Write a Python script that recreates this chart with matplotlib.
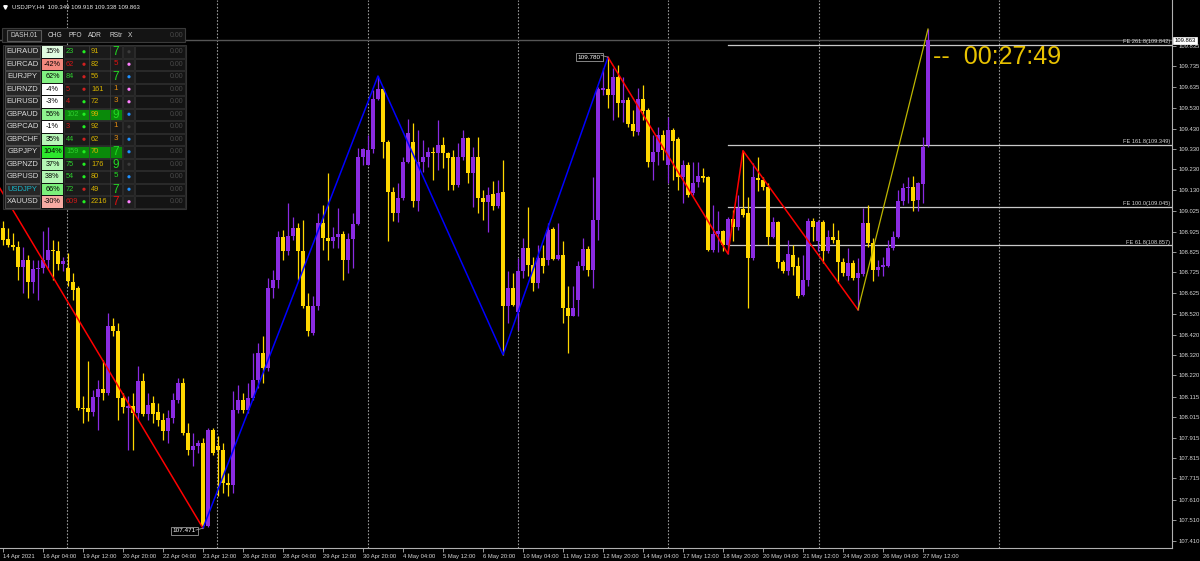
import matplotlib.pyplot as plt
from matplotlib.patches import Rectangle, Circle

plt.rcParams['font.family'] = ['Liberation Sans', 'DejaVu Sans']

# ---- USDJPY H4 candles (bar 0 .. 185) ----
opens = [108.942, 108.890, 108.860, 108.852, 108.754, 108.787, 108.676, 108.741, 108.746, 108.787,
         108.836, 108.832, 108.767, 108.746, 108.676, 108.648, 108.060, 108.060, 108.039, 108.114,
         108.153, 108.134, 108.460, 108.436, 108.109, 108.060, 108.068, 108.036, 108.191, 108.032,
         108.085, 108.039, 108.000, 107.946, 108.011, 108.101, 108.183, 107.938, 107.856, 107.876,
         107.889, 107.480, 107.954, 107.872, 107.856, 107.693, 107.683, 108.049, 108.101, 108.052,
         108.109, 108.199, 108.330, 108.256, 108.648, 108.689, 108.901, 108.832, 108.904, 108.942,
         108.832, 108.561, 108.427, 108.558, 108.966, 108.893, 108.877, 108.901, 108.912, 108.787,
         108.888, 108.963, 109.290, 109.252, 109.329, 109.574, 109.623, 109.362, 109.117, 109.015,
         109.089, 109.268, 109.362, 109.076, 109.268, 109.293, 109.317, 109.309, 109.350, 109.309,
         109.293, 109.154, 109.290, 109.386, 109.211, 109.290, 109.089, 109.072, 109.110, 109.053,
         109.117, 108.558, 108.648, 108.529, 108.730, 108.844, 108.762, 108.672, 108.795, 108.787,
         108.937, 108.790, 108.811, 108.550, 108.512, 108.591, 108.757, 108.839, 108.738, 108.983,
         109.620, 109.623, 109.595, 109.685, 109.557, 109.571, 109.453, 109.411, 109.574, 109.522,
         109.264, 109.317, 109.399, 109.252, 109.424, 109.378, 109.195, 109.252, 109.113, 109.170,
         109.200, 109.195, 108.836, 108.914, 108.926, 108.860, 108.986, 108.950, 109.037, 109.015,
         108.795, 109.187, 109.179, 109.146, 108.901, 108.970, 108.774, 108.730, 108.811, 108.757,
         108.615, 108.689, 108.975, 108.877, 108.970, 108.828, 108.898, 108.885, 108.774, 108.705,
         108.770, 108.697, 108.718, 108.966, 108.868, 108.738, 108.754, 108.757, 108.844, 108.898,
         109.073, 109.138, 109.146, 109.081, 109.159, 109.349]
highs = [108.975, 108.942, 108.917, 108.877, 108.852, 108.811, 108.787, 108.787, 108.926, 108.950,
         108.885, 108.877, 108.803, 108.819, 108.721, 108.656, 108.117, 108.289, 108.150, 108.199,
         108.297, 108.525, 108.501, 108.476, 108.134, 108.117, 108.134, 108.264, 108.232, 108.134,
         108.117, 108.085, 108.036, 108.052, 108.134, 108.207, 108.207, 107.987, 107.938, 107.905,
         107.913, 107.962, 107.962, 107.921, 107.889, 107.742, 108.142, 108.174, 108.134, 108.183,
         108.330, 108.378, 108.411, 108.697, 108.738, 108.926, 108.934, 109.064, 108.999, 108.966,
         108.983, 108.623, 108.607, 109.015, 109.056, 109.211, 108.950, 109.040, 108.926, 108.917,
         109.015, 109.334, 109.334, 109.399, 109.620, 109.688, 109.636, 109.375, 109.146, 109.162,
         109.293, 109.476, 109.456, 109.424, 109.375, 109.342, 109.342, 109.473, 109.391, 109.317,
         109.326, 109.358, 109.424, 109.391, 109.342, 109.391, 109.130, 109.146, 109.171, 109.179,
         109.277, 108.730, 108.721, 108.795, 108.893, 109.048, 108.803, 108.860, 108.860, 108.966,
         108.950, 108.966, 108.877, 108.656, 108.656, 108.779, 108.893, 108.855, 109.195, 109.636,
         109.726, 109.780, 109.726, 109.742, 109.685, 109.587, 109.522, 109.628, 109.644, 109.530,
         109.399, 109.440, 109.424, 109.489, 109.432, 109.391, 109.277, 109.268, 109.268, 109.268,
         109.236, 109.198, 109.056, 109.024, 108.934, 108.999, 109.032, 109.105, 109.322, 109.097,
         109.260, 109.293, 109.195, 109.162, 108.999, 108.975, 108.787, 108.885, 108.860, 108.803,
         108.811, 108.991, 108.991, 108.983, 108.983, 108.934, 108.966, 108.934, 108.795, 108.844,
         108.787, 108.795, 109.040, 109.056, 108.893, 108.787, 108.803, 108.885, 108.926, 109.130,
         109.162, 109.195, 109.198, 109.170, 109.391, 109.918]
lows = [108.860, 108.852, 108.836, 108.689, 108.623, 108.599, 108.623, 108.591, 108.721, 108.746,
        108.689, 108.738, 108.730, 108.656, 108.591, 108.052, 107.987, 107.995, 108.019, 107.954,
        108.101, 108.125, 108.411, 108.003, 108.036, 107.856, 107.856, 108.003, 108.019, 108.003,
        107.987, 107.970, 107.905, 107.889, 107.987, 108.085, 107.929, 107.832, 107.774, 107.840,
        107.471, 107.478, 107.832, 107.627, 107.644, 107.627, 107.644, 108.036, 108.036, 108.036,
        108.101, 108.158, 108.183, 108.240, 108.599, 108.648, 108.787, 108.811, 108.885, 108.689,
        108.550, 108.411, 108.419, 108.542, 108.836, 108.787, 108.844, 108.844, 108.689, 108.721,
        108.746, 108.958, 109.252, 109.252, 109.309, 109.571, 109.285, 108.877, 108.975, 108.970,
        109.081, 109.260, 109.048, 109.028, 109.219, 109.244, 109.179, 109.228, 109.236, 109.130,
        109.130, 109.146, 109.277, 109.162, 109.048, 109.015, 108.983, 108.921, 109.032, 109.040,
        108.321, 108.476, 108.558, 108.444, 108.697, 108.705, 108.632, 108.648, 108.721, 108.762,
        108.787, 108.787, 108.476, 108.329, 108.509, 108.509, 108.738, 108.705, 108.648, 108.885,
        109.595, 109.530, 109.473, 109.489, 109.464, 109.440, 109.394, 109.399, 109.473, 109.244,
        109.179, 109.252, 109.277, 109.162, 109.179, 109.130, 109.064, 109.097, 109.105, 109.146,
        109.170, 108.828, 108.823, 108.823, 108.828, 108.816, 108.881, 108.934, 108.999, 108.550,
        108.787, 109.122, 109.130, 108.860, 108.893, 108.746, 108.721, 108.713, 108.713, 108.599,
        108.607, 108.656, 108.877, 108.828, 108.770, 108.819, 108.868, 108.672, 108.705, 108.689,
        108.689, 108.542, 108.705, 108.852, 108.681, 108.705, 108.705, 108.754, 108.836, 108.893,
        109.056, 109.064, 109.024, 109.024, 109.064, 109.338]
closes = [108.885, 108.860, 108.852, 108.754, 108.787, 108.676, 108.741, 108.746, 108.787, 108.836,
          108.828, 108.767, 108.779, 108.681, 108.640, 108.060, 108.055, 108.039, 108.114, 108.153,
          108.134, 108.460, 108.436, 108.109, 108.065, 108.068, 108.036, 108.191, 108.032, 108.076,
          108.032, 108.003, 107.946, 108.011, 108.101, 108.183, 107.938, 107.856, 107.876, 107.889,
          107.480, 107.954, 107.840, 107.853, 107.693, 107.683, 108.049, 108.101, 108.052, 108.109,
          108.199, 108.330, 108.256, 108.651, 108.689, 108.901, 108.832, 108.904, 108.942, 108.832,
          108.561, 108.436, 108.558, 108.966, 108.893, 108.877, 108.901, 108.912, 108.787, 108.888,
          108.963, 109.290, 109.331, 109.326, 109.574, 109.623, 109.362, 109.117, 109.015, 109.089,
          109.268, 109.407, 109.076, 109.268, 109.293, 109.317, 109.309, 109.350, 109.309, 109.285,
          109.154, 109.293, 109.386, 109.211, 109.290, 109.089, 109.068, 109.105, 109.053, 109.113,
          108.558, 108.648, 108.563, 108.730, 108.844, 108.762, 108.672, 108.795, 108.757, 108.934,
          108.790, 108.808, 108.550, 108.512, 108.553, 108.757, 108.839, 108.738, 108.983, 109.623,
          109.628, 109.595, 109.685, 109.557, 109.571, 109.453, 109.419, 109.574, 109.518, 109.264,
          109.317, 109.399, 109.326, 109.424, 109.371, 109.195, 109.252, 109.105, 109.162, 109.200,
          109.187, 108.836, 108.914, 108.926, 108.860, 108.986, 108.950, 109.040, 109.007, 108.795,
          109.195, 109.179, 109.146, 108.901, 108.970, 108.774, 108.730, 108.816, 108.754, 108.610,
          108.689, 108.975, 108.947, 108.970, 108.828, 108.898, 108.885, 108.774, 108.721, 108.770,
          108.697, 108.721, 108.966, 108.868, 108.738, 108.754, 108.762, 108.844, 108.901, 109.073,
          109.138, 109.146, 109.077, 109.162, 109.342, 109.863]

# zigzag legs (bar index, price)
zz_red1 = [(-8, 109.44), (40, 107.471)]
zz_blue = [(40, 107.471), (75, 109.688), (100, 108.321), (121, 109.780)]
zz_red2 = [(121, 109.780), (145, 108.816), (148, 109.322), (171, 108.542)]
zz_olive = [(171, 108.542), (185, 109.918)]

fib_levels = [261.8, 161.8, 100.0, 61.8]
fib_prices = [109.842, 109.349, 109.045, 108.857]
fib_start_bar = 145
bid = 109.863

price_ticks = [109.835, 109.735, 109.635, 109.530, 109.430, 109.330, 109.230, 109.130, 109.025,
               108.925, 108.825, 108.725, 108.625, 108.520, 108.420, 108.320, 108.220, 108.115,
               108.015, 107.915, 107.815, 107.715, 107.610, 107.510, 107.410]
time_labels = ["14 Apr 2021", "16 Apr 04:00", "19 Apr 12:00", "20 Apr 20:00", "22 Apr 04:00",
               "23 Apr 12:00", "26 Apr 20:00", "28 Apr 04:00", "29 Apr 12:00", "30 Apr 20:00",
               "4 May 04:00", "5 May 12:00", "6 May 20:00", "10 May 04:00", "11 May 12:00",
               "12 May 20:00", "14 May 04:00", "17 May 12:00", "18 May 20:00", "20 May 04:00",
               "21 May 12:00", "24 May 20:00", "26 May 04:00", "27 May 12:00"]
grid_bars = [12.8, 42.8, 73, 103, 133, 163.2, 199.2]

# dashboard
symbols = ["EURAUD", "EURCAD", "EURJPY", "EURNZD", "EURUSD", "GBPAUD", "GBPCAD",
           "GBPCHF", "GBPJPY", "GBPNZD", "GBPUSD", "USDJPY", "XAUUSD"]
chg = [15, -42, 62, -4, -3, 56, -1, 35, 104, 37, 38, 66, -30]
pfo = [23, 62, 84, 5, 4, 102, 3, 44, 159, 75, 54, 72, 609]
pfo_up = [1, 0, 1, 0, 0, 1, 0, 1, 1, 1, 1, 1, 0]
pfo_dot_up = [1, 0, 0, 0, 1, 1, 1, 0, 1, 1, 1, 0, 1]
adr = [91, 82, 56, 161, 72, 99, 92, 62, 70, 176, 80, 49, 2216]
rstr = [7, 5, 7, 1, 3, 9, 1, 3, 7, 9, 5, 7, 7]
rstr_col = ['g', 'r', 'g', 'o', 'o', 'g', 'o', 'o', 'g', 'g', 'g', 'g', 'r']
sig_dot = ['n', 'p', 'b', 'p', 'p', 'b', 'n', 'b', 'b', 'n', 'b', 'b', 'p']
hilite = ["GBPAUD", "GBPJPY"]

BULL = '#8A2BE2'
BEAR = '#FFD700'

fig = plt.figure(figsize=(12, 5.61), dpi=100, facecolor='black')
ax = fig.add_axes([0, 13 / 561, 1172 / 1200, 548 / 561])
ax.set_facecolor('black')
ax.set_xlim(-0.6, 233.8)
ax.set_ylim(107.374, 110.0605)

for b in grid_bars:
    ax.axvline(b, color='#9a9a9a', lw=0.8, ls=(0, (1.5, 1.5)), zorder=1)

ax.axhline(bid, color='#555555', lw=1, zorder=2)

for i in range(len(opens)):
    o, h, l, c = opens[i], highs[i], lows[i], closes[i]
    col = BULL if c >= o else BEAR
    ax.vlines(i, l, h, color=col, lw=0.9, zorder=3)
    lo = min(o, c)
    ht = max(abs(c - o), 0.004)
    ax.bar(i, ht, bottom=lo, width=0.62, color=col, lw=0, zorder=4)

for leg, col, lw in [(zz_red1, '#FF0000', 1.1), (zz_blue, '#0000FF', 1.1),
                     (zz_red2, '#FF0000', 1.1), (zz_olive, '#BDB600', 0.9)]:
    ax.plot([p[0] for p in leg], [p[1] for p in leg], color=col, lw=lw, zorder=5)

for lvl, pr in zip(fib_levels, fib_prices):
    ax.plot([fib_start_bar, 233.8], [pr, pr], color='#c8c8c8', lw=0.9, zorder=2)
    ax.text(233.4, pr + 0.004, f"FE {lvl:.1f}({pr:.3f})", ha='right', va='bottom',
            fontsize=4.1, color='#d8d8d8', zorder=6)

# zigzag price tags
box = dict(boxstyle='square,pad=0.25', fc='black', ec='#9a9a9a', lw=0.6)
ax.text(38.6, 107.471, "107.471", ha='right', va='top', fontsize=4.6, color='white', bbox=box, zorder=7)
ax.plot([38.6, 40], [107.462, 107.471], color='#9a9a9a', lw=0.6, zorder=7)
ax.text(119.6, 109.780, "109.780", ha='right', va='center', fontsize=4.6, color='white', bbox=box, zorder=7)
ax.plot([119.6, 121], [109.790, 109.780], color='#9a9a9a', lw=0.6, zorder=7)

# axes styling
for s in ['left', 'top']:
    ax.spines[s].set_visible(False)
for s in ['right', 'bottom']:
    ax.spines[s].set_color('#b0b0b0')
    ax.spines[s].set_linewidth(0.8)
ax.yaxis.tick_right()
ax.set_yticks(price_ticks)
ax.set_yticklabels([f"{p:.3f}" for p in price_ticks])
ax.tick_params(axis='y', colors='#b0b0b0', labelcolor='#d8d8d8', labelsize=4.2, length=3, width=0.6, pad=1.5)
ax.set_xticks([8 * k for k in range(len(time_labels))])
ax.set_xticklabels(time_labels)
for lbl in ax.get_xticklabels():
    lbl.set_horizontalalignment('left')
ax.tick_params(axis='x', colors='#b0b0b0', labelcolor='#d8d8d8', labelsize=4.2, length=3, width=0.6, pad=1)

ax.text(1.002, bid, f"{bid:.3f}", transform=ax.get_yaxis_transform(), ha='left', va='center',
        fontsize=4.2, color='black', zorder=8, clip_on=False,
        bbox=dict(boxstyle='square,pad=0.2', fc='white', ec='white', lw=0.5))

# ---- overlay in pixel coordinates ----
ov = fig.add_axes([0, 0, 1, 1], zorder=10)
ov.set_xlim(0, 1200)
ov.set_ylim(561, 0)
ov.axis('off')
ov.patch.set_alpha(0)

ov.plot([4.5], [7], marker='v', ms=2.5, color='white')
ov.text(12, 7, "USDJPY,H4  109.349 109.918 109.338 109.863", fontsize=4.3, color='#e8e8e8', va='center')

ov.text(933, 57, "--  00:27:49", fontsize=18, color='#E8C200', va='center', ha='left')

# dashboard header
ov.add_patch(Rectangle((2, 28), 183, 14, fc='#141414', ec='#3a3a3a', lw=0.8))
ov.add_patch(Rectangle((7, 29.5), 34, 11, fc='#1e1e1e', ec='#5a5a5a', lw=0.8))
ov.text(24, 35, "DASH.01", fontsize=4.8, color='#d0d0d0', ha='center', va='center')
for txt, xc in [("CHG", 55), ("PFO", 75), ("ADR", 95), ("RStr", 116), ("X", 130)]:
    ov.text(xc, 35, txt, fontsize=4.8, color='#d8d8d8', ha='center', va='center')
ov.text(183, 35, "0.00", fontsize=5, color='#4a4a4a', ha='right', va='center')

def chg_color(v):
    if v >= 10:
        t = min(v / 110, 1)
        return (1 - 0.87 * t, 1 - 0.1 * t, 1 - 0.87 * t)
    if v <= -10:
        t = min(-v / 50, 1)
        return (1 - 0.06 * t, 1 - 0.55 * t, 1 - 0.6 * t)
    return (1, 1, 1)

dot_cols = {'n': '#3c3c3c', 'p': '#ff80ff', 'b': '#1e90ff'}
rcols = {'g': '#22dd22', 'r': '#e01010', 'o': '#e08a10'}
row_h = 12.5
y0 = 45.5
ov.add_patch(Rectangle((3, y0 - 1), 183, row_h * len(symbols) + 2, fc='#121212', ec='#333333', lw=0.8))
for k, sym in enumerate(symbols):
    yt = y0 + k * row_h
    yc = yt + row_h / 2
    ov.add_patch(Rectangle((5, yt + 0.5), 35, row_h - 1, fc='#262626', ec='#555555', lw=0.6))
    ov.text(22.5, yc, sym, fontsize=5.5, ha='center', va='center',
            color='#19b5c8' if sym == "USDJPY" else '#dcdcdc')
    ov.add_patch(Rectangle((42, yt + 0.5), 21, row_h - 1, fc=chg_color(chg[k]), ec='none'))
    ov.text(52.5, yc, f"{chg[k]}%", fontsize=5.2, ha='center', va='center', color='black')
    fill = '#0a8a0a' if sym in hilite else '#1a1a1a'
    ov.add_patch(Rectangle((64, yt + 0.5), 58, row_h - 1, fc=fill, ec='#2e2e2e', lw=0.6))
    ov.plot([89, 89], [yt, yt + row_h], color='#3a3a3a', lw=0.6)
    ov.plot([109.5, 109.5], [yt, yt + row_h], color='#3a3a3a', lw=0.6)
    ov.text(66, yc, str(pfo[k]), fontsize=5.3, ha='left', va='center',
            color='#2ed02e' if pfo_up[k] else '#d01818')
    ov.add_patch(Circle((84, yc), 1.6, fc='#22ee22' if pfo_dot_up[k] else '#d02020', ec='none'))
    ov.text(91, yc, str(adr[k]), fontsize=5.3, ha='left', va='center', color='#d8b400')
    big = rstr[k] >= 7
    ov.text(116, yc + (0.5 if big else -1), str(rstr[k]), fontsize=8.5 if big else 5.8,
            ha='center', va='center', color=rcols[rstr_col[k]])
    ov.add_patch(Rectangle((123, yt + 0.5), 11, row_h - 1, fc='#1e1e1e', ec='#2e2e2e', lw=0.6))
    ov.add_patch(Circle((129, yc), 1.6, fc=dot_cols[sig_dot[k]], ec='none'))
    ov.add_patch(Rectangle((135, yt + 0.5), 50, row_h - 1, fc='#141414', ec='#2e2e2e', lw=0.6))
    ov.text(183, yc, "0.00", fontsize=5, ha='right', va='center', color='#4a4a4a')

fig.savefig("out.png", dpi=100, facecolor='black')
